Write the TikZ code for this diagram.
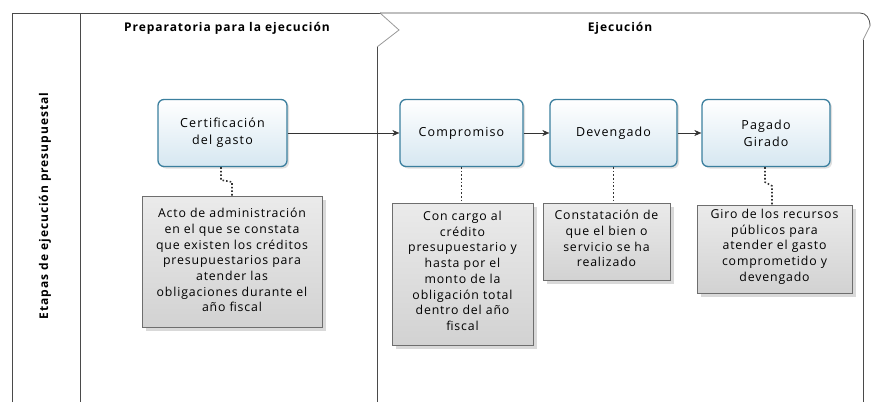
\documentclass[tikz,border=0pt]{standalone}
\usepackage{fontspec}
\setmainfont{Open Sans}
\newfontfamily\boxfont[LetterSpace=9]{Open Sans}
\newfontfamily\notefont[LetterSpace=7]{Open Sans}
\newfontfamily\titlefont[LetterSpace=8]{Open Sans}
\usetikzlibrary{arrows.meta,shadows,calc}
\definecolor{boxborder}{HTML}{3B7F9E}
\definecolor{boxfill}{HTML}{D6E7F1}
\definecolor{notefill}{HTML}{D2D2D2}
\definecolor{noteborder}{HTML}{6E6E6E}
\definecolor{frame}{HTML}{4A4A4A}
\tikzset{
  stepbox/.style={draw=boxborder, line width=1.3pt, rounded corners=6pt,
    top color=white, bottom color=boxfill,
    drop shadow={shadow xshift=2pt, shadow yshift=-2pt, opacity=0.25},
    align=center, font=\boxfont\fontsize{12.5}{17}\selectfont, inner sep=0pt},
  notebox/.style={draw=noteborder, line width=0.6pt,
    top color=white!92!black, bottom color=notefill,
    drop shadow={shadow xshift=4pt, shadow yshift=-4pt, opacity=0.3},
    inner sep=0pt, anchor=north west},
  notetext/.style={align=center, font=\notefont\fontsize{12.3}{15.7}\selectfont, anchor=north, inner sep=0pt},
  flow/.style={-{Stealth[length=7pt,width=6pt]}, line width=0.5pt, black!80},
  link/.style={line width=1.6pt, dotted, black!80},
  framel/.style={draw=frame, line width=0.8pt},
  title/.style={font=\titlefont\bfseries\fontsize{12}{14}\selectfont}
}
\begin{document}
\begin{tikzpicture}[x=1pt,y=-1pt]
\useasboundingbox (0,0) rectangle (872,402);
% frame
\draw[framel] (12,402) -- (12,13) -- (380,13);
\draw[framel] (80,13) -- (80,402);
\draw[framel, black!40] (380,13) -- (399,30) -- (377,47);
\draw[framel] (377,47) -- (377,402);
\draw[framel] (380,13) -- (860,13) .. controls (866,13) and (870,18) .. (870,26);
\draw[framel, black!40] (870,26) -- (863,40);
\draw[framel] (863,40) -- (863,402);
% titles
\node[title] (t1) at (227,28) {Preparatoria para la ejecución};
\node[title] (t2) at (620,28) {Ejecución};
\node[title, rotate=90] (lane) at (45,206) {Etapas de ejecución presupuestal};
% steps
\node[stepbox, minimum width=129pt, minimum height=67pt] (cert) at (222.5,133) {Certificación\\del gasto};
\node[stepbox, minimum width=123pt, minimum height=67pt] (comp) at (461.5,133) {Compromiso};
\node[stepbox, minimum width=127pt, minimum height=67pt] (dev) at (613.5,133) {Devengado};
\node[stepbox, minimum width=128pt, minimum height=67pt] (pag) at (766,133) {Pagado\\Girado};
% flows
\draw[flow] (cert) -- (comp);
\draw[flow] (comp) -- (dev);
\draw[flow] (dev) -- (pag);
% notes
\node[notebox, minimum width=180pt, minimum height=131pt] (n1) at (142,196) {};
\node[notetext] (n1t) at (232,208) {Acto de administración\\en el que se constata\\que existen los créditos\\presupuestarios para\\atender las\\obligaciones durante el\\año fiscal};
\node[notebox, minimum width=141pt, minimum height=142pt] (n2) at (392,203) {};
\node[notetext] (n2t) at (462.5,211) {Con cargo al\\crédito\\presupuestario y\\hasta por el\\monto de la\\obligación total\\dentro del año\\fiscal};
\node[notebox, minimum width=127pt, minimum height=77pt] (n3) at (543,203) {};
\node[notetext] (n3t) at (606.5,210) {Constatación de\\que el bien o\\servicio se ha\\realizado};
\node[notebox, minimum width=155pt, minimum height=88pt] (n4) at (697,205) {};
\node[notetext] (n4t) at (774.5,209) {Giro de los recursos\\públicos para\\atender el gasto\\comprometido y\\devengado};
% links
\coordinate (c1a) at (221,180);
\coordinate (c1b) at (232,182);
\draw[link] (cert.south -| c1a) -- (c1a) -- (c1b) -- (c1b |- n1.north);
\draw[link] (comp.south) -- (comp.south |- n2.north);
\draw[link] (dev.south) -- (dev.south |- n3.north);
\coordinate (c4a) at (765,182);
\coordinate (c4b) at (772,186);
\draw[link] (pag.south -| c4a) -- (c4a) -- (c4b) -- (c4b |- n4.north);
\end{tikzpicture}
\end{document}
